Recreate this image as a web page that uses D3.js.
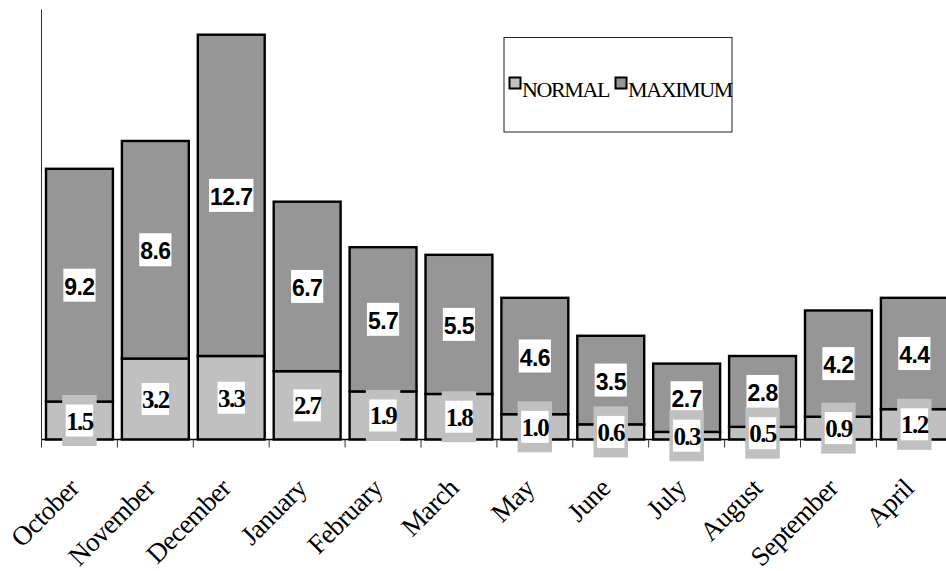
<!DOCTYPE html>
<html>
<head>
<meta charset="utf-8">
<script src="https://cdn.jsdelivr.net/npm/d3@7"></script>
<style>
  html, body { margin: 0; padding: 0; background: #fff; }
  svg { display: block; }
</style>
</head>
<body>
<svg id="chart" width="946" height="571"></svg>
<script>
// Monthly values: a NORMAL base with the MAXIMUM excess stacked on top
const months = ["October", "November", "December", "January", "February", "March",
                "May", "June", "July", "August", "September", "April"];
const normalValues  = [1.5, 3.2, 3.3, 2.7, 1.9, 1.8, 1.0, 0.6, 0.3, 0.5, 0.9, 1.2];
const maximumValues = [9.2, 8.6, 12.7, 6.7, 5.7, 5.5, 4.6, 3.5, 2.7, 2.8, 4.2, 4.4];
const seriesNames = ["NORMAL", "MAXIMUM"];
const seriesColors = ["#c0c0c0", "#969696"];

const svg = d3.select("#chart");

const plot = { left: 41.5, right: 41.5 + 75.9 * 12, top: 9.4, bottom: 439.5 };

const x = d3.scaleBand()
  .domain(months)
  .range([plot.left, plot.right])
  .paddingInner(0)
  .paddingOuter(0);

const y = d3.scaleLinear()
  .domain([0, 17])
  .range([plot.bottom, plot.top]);

const rows = months.map((m, i) => ({ month: m, NORMAL: normalValues[i], MAXIMUM: maximumValues[i] }));
const stacked = d3.stack().keys(seriesNames)(rows);

const inset = 4.5;
const barW = x.bandwidth() - inset * 2;

// stacked bars
const layers = svg.append("g").selectAll("g")
  .data(stacked)
  .join("g")
  .attr("fill", (d, i) => seriesColors[i]);

layers.selectAll("rect")
  .data(d => d)
  .join("rect")
  .attr("x", d => x(d.data.month) + inset)
  .attr("width", barW)
  .attr("y", d => y(d[1]))
  .attr("height", d => y(d[0]) - y(d[1]))
  .attr("stroke", "#000")
  .attr("stroke-width", 2.4);

// y axis line
svg.append("line")
  .attr("x1", plot.left).attr("x2", plot.left)
  .attr("y1", plot.top).attr("y2", plot.bottom)
  .attr("stroke", "#333").attr("stroke-width", 1);

// x axis with ticks at category boundaries
const xAxis = svg.append("g");
xAxis.append("line")
  .attr("x1", plot.left).attr("x2", plot.right)
  .attr("y1", plot.bottom).attr("y2", plot.bottom)
  .attr("stroke", "#000").attr("stroke-width", 1.5);
xAxis.selectAll("line.tick")
  .data(months)
  .join("line")
  .attr("class", "tick")
  .attr("x1", d => x(d)).attr("x2", d => x(d))
  .attr("y1", plot.bottom).attr("y2", plot.bottom + 8)
  .attr("stroke", "#333").attr("stroke-width", 1);

xAxis.selectAll("text")
  .data(months)
  .join("text")
  .attr("transform", d => `translate(${x(d) + x.bandwidth() / 2 + 1},${490}) rotate(-45)`)
  .attr("text-anchor", "end")
  .attr("font-family", "'Liberation Serif', 'Times New Roman', serif")
  .style("font-size", "27px")
  .attr("letter-spacing", -0.6)
  .attr("fill", "#000")
  .text(d => d);

// value labels
function boxLabel(g, cx, cy, text, opts) {
  const t = g.append("text")
    .attr("x", cx)
    .attr("y", cy + opts.shift)
    .attr("text-anchor", "middle")
    .attr("font-family", opts.font)
    .attr("font-weight", "bold")
    .style("font-size", opts.size + "px")
    .attr("letter-spacing", opts.spacing)
    .attr("fill", "#000")
    .text(text);
  const w = t.node().getComputedTextLength() + opts.padX;
  const h = opts.boxH;
  if (opts.frame) {
    g.insert("rect", "text")
      .attr("x", cx - w / 2 - opts.frame.x).attr("y", cy - h / 2 - opts.frame.top)
      .attr("width", w + opts.frame.x * 2).attr("height", h + opts.frame.top + opts.frame.bottom)
      .attr("fill", opts.frame.color);
  }
  g.insert("rect", "text")
    .attr("x", cx - w / 2).attr("y", cy - h / 2)
    .attr("width", w).attr("height", h)
    .attr("fill", "#fff");
}

const labels = svg.append("g");
stacked[1].forEach((d, i) => {
  const g = labels.append("g");
  const cx = x(d.data.month) + x.bandwidth() / 2;
  const cy = (y(d[0]) + y(d[1])) / 2;
  boxLabel(g, cx, cy, d3.format(".1f")(maximumValues[i]), {
    font: "'Liberation Sans', Arial, sans-serif", size: 23, spacing: -0.6, padX: 2, boxH: 33, shift: 9.5
  });
});
stacked[0].forEach((d, i) => {
  const g = labels.append("g");
  const cx = x(d.data.month) + x.bandwidth() / 2;
  const cy = (y(d[0]) + y(d[1])) / 2;
  boxLabel(g, cx, cy, d3.format(".1f")(normalValues[i]), {
    font: "'Liberation Serif', 'Times New Roman', serif", size: 25, spacing: -1.6, padX: 1, boxH: 32, shift: 9,
    frame: { x: 3.5, top: 9.5, bottom: 9.5, color: "#c0c0c0" }
  });
});

// legend
const legend = svg.append("g");
legend.append("rect")
  .attr("x", 504).attr("y", 37.5).attr("width", 228).attr("height", 94.5)
  .attr("fill", "#fff").attr("stroke", "#222").attr("stroke-width", 1);
const legendX = [509.5, 615.5];
seriesNames.forEach((name, i) => {
  legend.append("rect")
    .attr("x", legendX[i]).attr("y", 77.5)
    .attr("width", 11).attr("height", 11)
    .attr("fill", seriesColors[i])
    .attr("stroke", "#000").attr("stroke-width", 2);
  legend.append("text")
    .attr("x", legendX[i] + 12.5).attr("y", 96.5)
    .attr("font-family", "'Liberation Serif', 'Times New Roman', serif")
    .style("font-size", "22px")
    .attr("letter-spacing", -1.4)
    .attr("fill", "#000")
    .text(name);
});
</script>
</body>
</html>
